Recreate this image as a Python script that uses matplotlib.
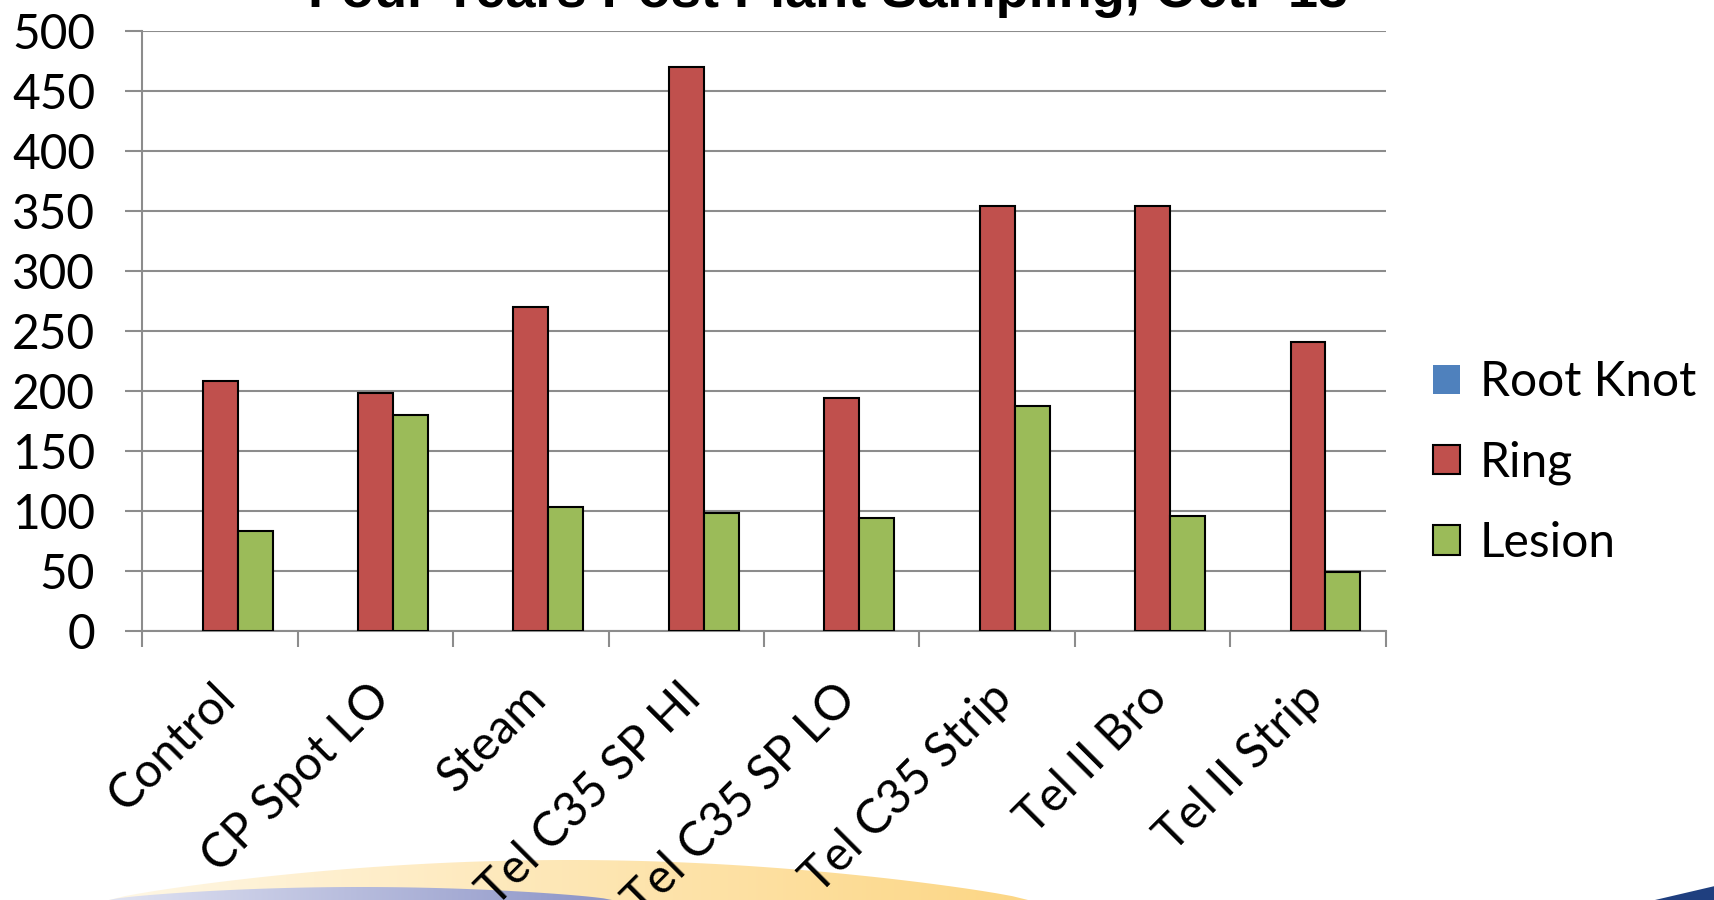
import numpy as np
import matplotlib.pyplot as plt
import matplotlib.transforms as mtransforms
from matplotlib.patches import Polygon

# nematode counts per treatment
treatments = ["Control", "CP Spot LO", "Steam", "Tel C35 SP HI", "Tel C35 SP LO",
              "Tel C35 Strip", "Tel II Bro", "Tel II Strip"]
root_knot = [0, 0, 0, 0, 0, 0, 0, 0]
ring = [208, 198, 270, 470, 194, 354, 354, 241]
lesion = [83, 180, 103, 98, 94, 187, 96, 49]

series = [("Root Knot", root_knot, "#4F81BD"),
          ("Ring", ring, "#C0504D"),
          ("Lesion", lesion, "#9BBB59")]

plt.rcParams['font.family'] = ['Lato', 'DejaVu Sans']
fs = 34.5

fig = plt.figure(figsize=(17.15, 9.0), dpi=100)

# background swoosh along the bottom of the slide
bg = fig.add_axes([0, 0, 1, 1], zorder=-1)
bg.set_xlim(0, 1715)
bg.set_ylim(900, 0)
bg.axis("off")

def gradient_band(xs_top, ys_top, c0, c1):
    pts = list(zip(xs_top, ys_top)) + [(xs_top[-1], 900), (xs_top[0], 900)]
    poly = Polygon(pts, closed=True, facecolor="none", edgecolor="none")
    bg.add_patch(poly)
    grad = np.linspace(0, 1, 256)[None, :, None]
    c0 = np.array(c0)[None, None, :]
    c1 = np.array(c1)[None, None, :]
    img = c0 + (c1 - c0) * grad
    im = bg.imshow(np.repeat(img, 2, axis=0), extent=(min(xs_top), max(xs_top), 900, min(ys_top)),
                   aspect="auto", interpolation="bilinear")
    im.set_clip_path(poly)

t = np.linspace(0, 1, 60)
xs = 109 + (1028 - 109) * t
ys = 900 - 40 * np.sin(np.pi * t) ** 0.8
gradient_band(xs, ys, (1.0, 0.97, 0.90), (0.99, 0.84, 0.52))
xs2 = 109 + (612 - 109) * t
ys2 = 900 - 13 * np.sin(np.pi * t) ** 0.7
gradient_band(xs2, ys2, (0.88, 0.89, 0.95), (0.55, 0.58, 0.78))
bg.add_patch(Polygon([(1655, 900), (1715, 886), (1715, 900)], closed=True,
                     facecolor="#1F3F7F", edgecolor="none"))

ax = fig.add_axes([0.083, 0.299, 0.725, 0.667])

x = np.arange(len(treatments))
w = 0.225
for i, (name, vals, color) in enumerate(series):
    ec = "none" if name == "Root Knot" else "black"
    ax.bar(x + (i - 1) * w, vals, w, color=color, edgecolor=ec, linewidth=1.5,
           label=name, zorder=3)

ax.set_xlim(-0.5, len(treatments) - 0.5)
ax.set_ylim(0, 500)
ax.set_yticks(np.arange(0, 501, 50))
ax.yaxis.grid(True, color="#8C8C8C", linewidth=1.5, zorder=0)

ax.set_xticks(np.arange(-0.5, len(treatments)), minor=False)
ax.set_xticklabels([])
ax.set_xticks(x, minor=True)
ax.set_xticklabels(treatments, minor=True, rotation=45, ha="right",
                   rotation_mode="anchor", fontsize=fs)
ax.tick_params(axis="x", which="minor", length=0, pad=32)
ax.tick_params(axis="x", which="major", length=11.5, width=1.5, color="#8C8C8C")
ax.tick_params(axis="y", length=12, width=1.5, color="#8C8C8C", labelsize=fs, pad=22)

shift = mtransforms.ScaledTranslation(-8 / 100, 0, fig.dpi_scale_trans)
for lbl in ax.get_xticklabels(minor=True):
    lbl.set_transform(lbl.get_transform() + shift)

for s in ["top", "right"]:
    ax.spines[s].set_visible(False)
for s in ["left", "bottom"]:
    ax.spines[s].set_color("#8C8C8C")
    ax.spines[s].set_linewidth(1.5)

fig.text(0.483, 1 - 7 / 900, "Four Years Post Plant Sampling, Oct. '13",
         family="Liberation Sans", weight="bold", fontsize=39, ha="center", va="baseline")

fig.legend(loc="center left", bbox_to_anchor=(0.8105, 0.486), frameon=False,
           fontsize=fs, handlelength=0.57, handleheight=0.57, handletextpad=0.4,
           labelspacing=0.75)

fig.savefig("out.png", dpi=100)
